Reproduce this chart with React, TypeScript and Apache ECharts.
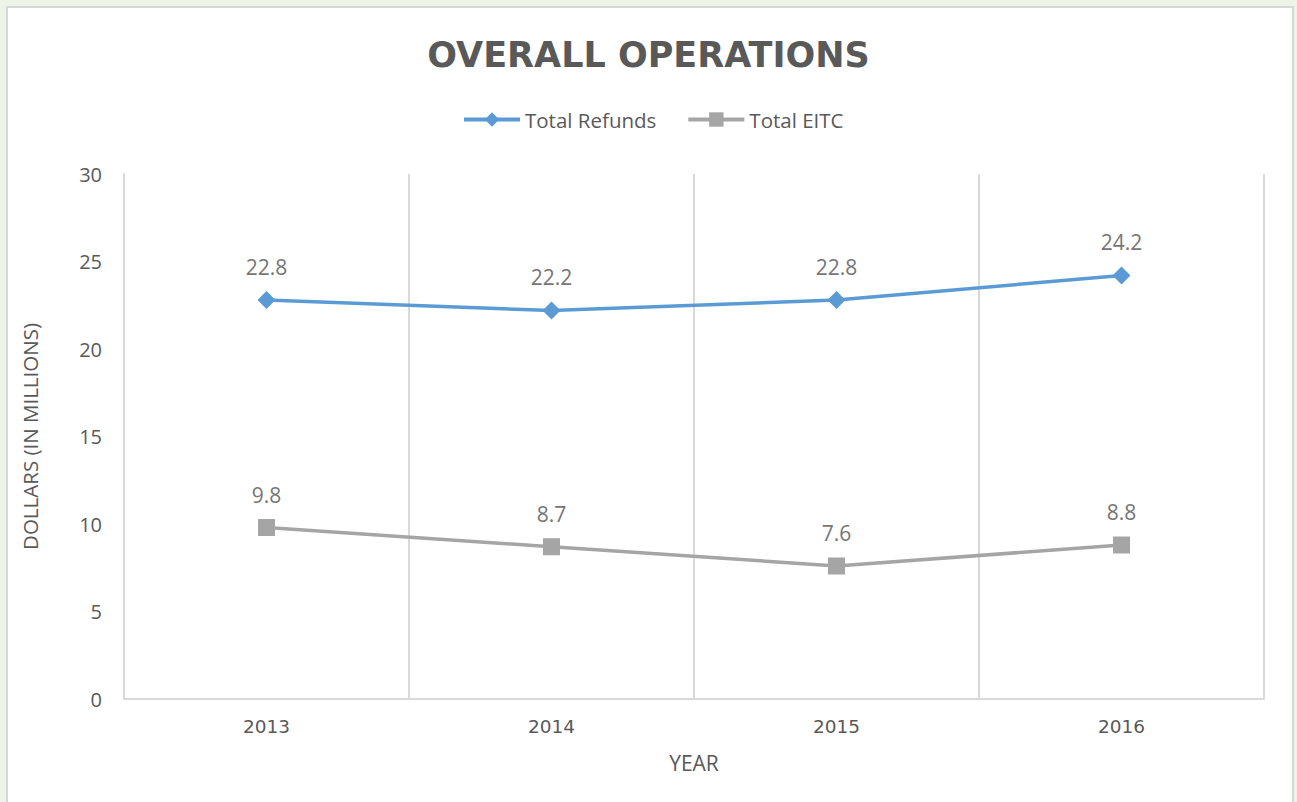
import React, { useEffect, useRef } from "react";
import * as echarts from "echarts";

const years = ["2013", "2014", "2015", "2016"];
const totalRefunds = [22.8, 22.2, 22.8, 24.2];
const totalEITC = [9.8, 8.7, 7.6, 8.8];

const FONT = "'Open Sans', 'Noto Sans', sans-serif";
const WIDE = "'DejaVu Sans', 'Open Sans', sans-serif";

export default function App() {
  const ref = useRef<HTMLDivElement>(null);
  useEffect(() => {
    if (!ref.current) return;
    const chart = echarts.init(ref.current, undefined, { renderer: "svg" });
    chart.setOption({
      animation: false,
      backgroundColor: "#eef3e8",
      textStyle: { fontFamily: FONT },
      graphic: [
        {
          type: "rect",
          shape: { x: 7, y: 7, width: 1286, height: 810 },
          style: { fill: "#ffffff", stroke: "#d6d9d3", lineWidth: 2 },
          z: -10,
          silent: true,
        },
      ],
      title: {
        text: "OVERALL OPERATIONS",
        left: "center",
        top: 32,
        textStyle: { fontFamily: WIDE, fontSize: 35, fontWeight: "bold", color: "#595959" },
      },
      legend: {
        top: 104,
        left: 457,
        itemWidth: 56,
        itemHeight: 18,
        itemGap: 30,
        lineStyle: { width: 4 },
        textStyle: { fontFamily: FONT, fontSize: 20.5, color: "#595959" },
        data: ["Total Refunds", "Total EITC"],
      },
      grid: { left: 124, right: 33, top: 174, bottom: 103, containLabel: false },
      xAxis: {
        type: "category",
        data: years,
        boundaryGap: true,
        name: "YEAR",
        nameLocation: "middle",
        nameGap: 53,
        nameTextStyle: { fontFamily: FONT, fontSize: 21, color: "#595959" },
        axisLine: { show: true, lineStyle: { color: "#d9d9d9", width: 2 } },
        axisTick: { show: false },
        axisLabel: { fontFamily: WIDE, fontSize: 18.5, color: "#595959", margin: 18 },
        splitLine: { show: true, interval: 0, lineStyle: { color: "#d9d9d9", width: 2 } },
      },
      yAxis: {
        type: "value",
        min: 0,
        max: 30,
        interval: 5,
        name: "DOLLARS (IN MILLIONS)",
        nameLocation: "middle",
        nameGap: 84,
        nameRotate: 90,
        nameTextStyle: { fontFamily: FONT, fontSize: 20.5, color: "#595959" },
        axisLine: { show: true, lineStyle: { color: "#d9d9d9", width: 2 } },
        axisTick: { show: false },
        axisLabel: { fontFamily: FONT, fontSize: 20, color: "#595959", margin: 22 },
        splitLine: { show: false },
      },
      series: [
        {
          name: "Total Refunds",
          type: "line",
          data: totalRefunds,
          symbol: "diamond",
          symbolSize: 18,
          itemStyle: { color: "#5b9bd5" },
          lineStyle: { color: "#5b9bd5", width: 3.5 },
          label: {
            show: true,
            position: "top",
            distance: 14,
            fontFamily: FONT,
            fontSize: 21,
            color: "#767676",
          },
        },
        {
          name: "Total EITC",
          type: "line",
          data: totalEITC,
          symbol: "rect",
          symbolSize: 17,
          itemStyle: { color: "#a5a5a5" },
          lineStyle: { color: "#a5a5a5", width: 3.5 },
          label: {
            show: true,
            position: "top",
            distance: 14,
            fontFamily: FONT,
            fontSize: 21,
            color: "#767676",
          },
        },
      ],
    });
    return () => chart.dispose();
  }, []);
  return (
    <div
      ref={ref}
      style={{ position: "fixed", left: 0, top: 0, width: 1297, height: 802 }}
    />
  );
}
